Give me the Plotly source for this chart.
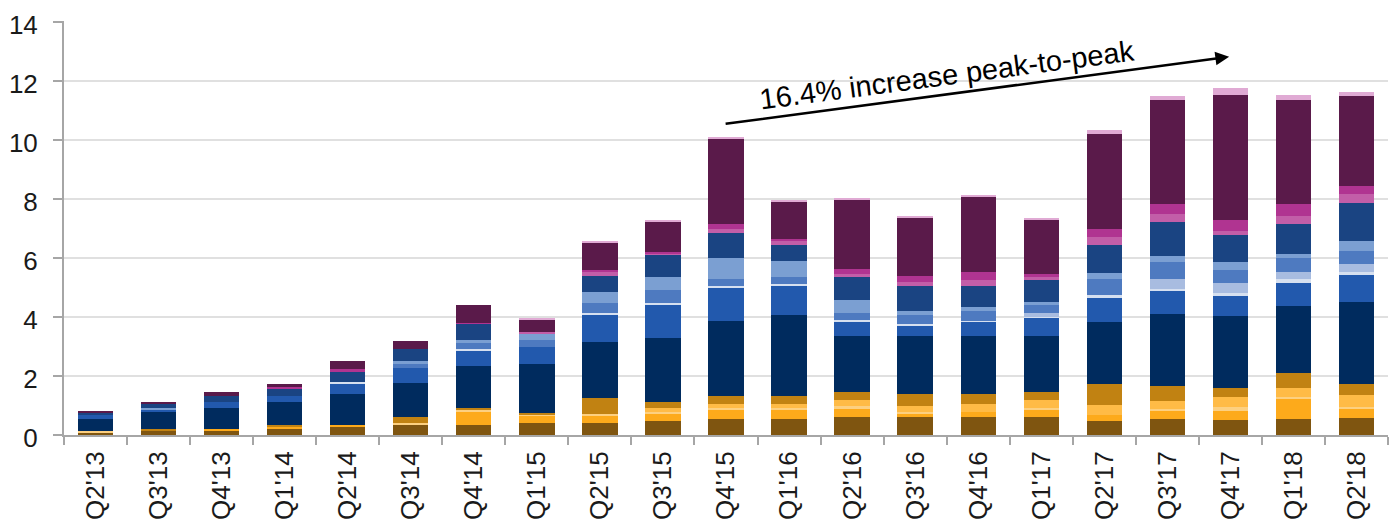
import plotly.graph_objects as go

categories = ["Q2'13", "Q3'13", "Q4'13", "Q1'14", "Q2'14", "Q3'14", "Q4'14", "Q1'15",
              "Q2'15", "Q3'15", "Q4'15", "Q1'16", "Q2'16", "Q3'16", "Q4'16", "Q1'17",
              "Q2'17", "Q3'17", "Q4'17", "Q1'18", "Q2'18"]

brown = [0.07, 0.13, 0.13, 0.20, 0.27, 0.34, 0.34, 0.40, 0.40, 0.47, 0.54, 0.54, 0.60, 0.60, 0.60, 0.60, 0.46, 0.53, 0.52, 0.55, 0.58]
orange = [0, 0, 0.07, 0.07, 0.07, 0, 0.43, 0.24, 0.27, 0.27, 0.30, 0.30, 0.31, 0.14, 0.17, 0.24, 0.22, 0.29, 0.30, 0.67, 0.30]
pale_orange = [0.06, 0, 0, 0, 0, 0.06, 0.07, 0.07, 0.04, 0.03, 0.07, 0.07, 0.06, 0.03, 0, 0.07, 0, 0.06, 0.13, 0.07, 0.07]
light_orange = [0, 0, 0, 0, 0, 0, 0, 0, 0, 0.14, 0.13, 0.13, 0.21, 0.20, 0.27, 0.27, 0.34, 0.27, 0.34, 0.30, 0.40]
gold = [0, 0.07, 0, 0.07, 0, 0.20, 0.07, 0.03, 0.53, 0.20, 0.27, 0.27, 0.26, 0.41, 0.34, 0.27, 0.70, 0.51, 0.30, 0.50, 0.37]
navy = [0.41, 0.57, 0.71, 0.77, 1.04, 1.15, 1.41, 1.65, 1.92, 2.18, 2.55, 2.76, 1.92, 1.98, 1.98, 1.91, 2.12, 2.45, 2.45, 2.29, 2.79]
blue = [0.13, 0.07, 0.20, 0.20, 0.37, 0.53, 0.54, 0.60, 0.90, 1.11, 1.11, 0.97, 0.47, 0.34, 0.47, 0.61, 0.81, 0.77, 0.67, 0.77, 0.91]
pale_blue = [0, 0, 0, 0, 0.06, 0, 0.06, 0, 0.07, 0.07, 0.07, 0.07, 0.07, 0.06, 0.03, 0.04, 0.10, 0.07, 0.11, 0.14, 0.10]
light_blue = [0, 0, 0, 0, 0, 0, 0, 0, 0, 0, 0, 0, 0, 0, 0, 0.12, 0, 0.34, 0.33, 0.23, 0.27]
steel = [0, 0, 0, 0, 0, 0.11, 0.20, 0.24, 0.34, 0.43, 0.23, 0.23, 0.23, 0.30, 0.34, 0.27, 0.54, 0.57, 0.44, 0.47, 0.44]
light_steel = [0, 0.07, 0, 0, 0, 0.13, 0.11, 0.20, 0.37, 0.44, 0.74, 0.54, 0.44, 0.14, 0.13, 0.10, 0.20, 0.20, 0.27, 0.14, 0.33]
dark_blue = [0.07, 0.13, 0.20, 0.27, 0.34, 0.40, 0.53, 0, 0.54, 0.74, 0.84, 0.57, 0.81, 0.84, 0.71, 0.74, 0.94, 1.14, 0.90, 1.00, 1.28]
pink = [0, 0, 0, 0, 0, 0, 0, 0.06, 0.16, 0.07, 0.14, 0.13, 0.06, 0.13, 0.20, 0.14, 0.27, 0.27, 0.14, 0.27, 0.33]
magenta = [0, 0, 0, 0.03, 0.07, 0, 0.04, 0, 0.04, 0.06, 0.17, 0.07, 0.17, 0.21, 0.27, 0.06, 0.27, 0.34, 0.37, 0.41, 0.27]
purple = [0.07, 0.07, 0.13, 0.13, 0.27, 0.27, 0.60, 0.41, 0.94, 1.01, 2.85, 1.24, 2.35, 1.98, 2.55, 1.85, 3.22, 3.52, 4.26, 3.52, 3.03]
light_pink = [0, 0, 0, 0, 0, 0, 0, 0.06, 0.06, 0.07, 0.07, 0.07, 0.07, 0.06, 0.07, 0.07, 0.13, 0.14, 0.22, 0.20, 0.13]

series = [
    ("brown", brown, "#7f5510"),
    ("orange", orange, "#fdaa1b"),
    ("pale orange", pale_orange, "#fdd080"),
    ("light orange", light_orange, "#ffbb46"),
    ("gold", gold, "#c18212"),
    ("navy", navy, "#002b5e"),
    ("blue", blue, "#2259ad"),
    ("pale blue", pale_blue, "#d6e0f0"),
    ("light blue", light_blue, "#a8bce0"),
    ("steel", steel, "#4e7ac0"),
    ("light steel", light_steel, "#7b9fd2"),
    ("dark blue", dark_blue, "#1a4482"),
    ("pink", pink, "#c25ea8"),
    ("magenta", magenta, "#b03491"),
    ("purple", purple, "#5a1a4a"),
    ("light pink", light_pink, "#e0aad4"),
]

FONT = "Liberation Sans"

fig = go.Figure()
for name, vals, col in series:
    fig.add_trace(go.Bar(x=categories, y=vals, name=name, marker=dict(color=col, line=dict(width=0)),
                         showlegend=False))

fig.update_layout(
    width=1397, height=529,
    margin=dict(l=59, r=9, t=21, b=92),
    barmode="stack", bargap=0.44,
    plot_bgcolor="white", paper_bgcolor="white",
    font=dict(family=FONT, size=26, color="#1a1a1a"),
    xaxis=dict(type="category", showline=True, linecolor="#a6a6a6", linewidth=2,
               ticks="outside", tickson="boundaries", ticklen=8, tickwidth=2, tickcolor="#a6a6a6",
               tickangle=-90, showgrid=False, ticklabelstandoff=4,
               tickfont=dict(size=26, family=FONT, color="#1a1a1a")),
    yaxis=dict(range=[0, 14.02], dtick=2, showline=True, linecolor="#a6a6a6", linewidth=2,
               ticks="outside", ticklen=9, tickwidth=2, tickcolor="#a6a6a6",
               gridcolor="#e0e0e0", gridwidth=2, zeroline=False,
               ticklabelstandoff=10, ticklabelshift=3,
               tickfont=dict(size=26, family=FONT, color="#1a1a1a")),
)

# arrow
fig.add_annotation(x=17.98, y=12.81, ax=9.97, ay=10.53, xref="x", yref="y", axref="x", ayref="y",
                   showarrow=True, arrowhead=2, arrowsize=1.1, arrowwidth=2.5, arrowcolor="black", text="")
fig.add_annotation(x=13.5, y=12.2, xref="x", yref="y", text="16.4% increase peak-to-peak",
                   showarrow=False, textangle=-7.5, font=dict(size=29, family=FONT, color="black"))

fig.write_html("out.html")
